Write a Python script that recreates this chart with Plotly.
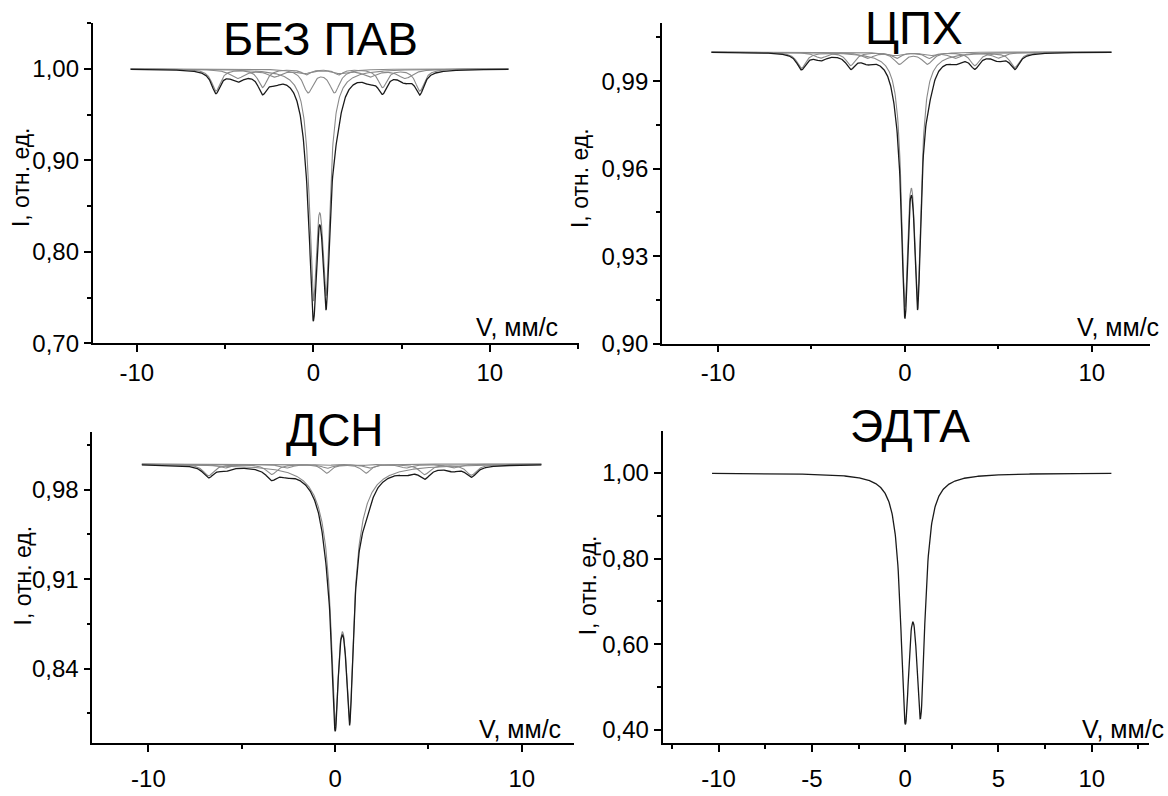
import numpy as np
import plotly.graph_objects as go

# Velocity scale of the spectra, mm/s
V_START, V_END, N_CHANNELS = -10.35, 11.05, 1024

# Each subspectrum: line positions (mm/s), line depths (fraction of baseline), half-widths (mm/s)
# --- БЕЗ ПАВ ---
A_DOUBLET_POS = [0.0, 0.72]
A_DOUBLET_DEPTH = [0.227, 0.221]
A_DOUBLET_HW = [0.265, 0.265]
A_DOUBLET2_POS = [-0.30, 1.20]
A_DOUBLET2_DEPTH = [0.025, 0.025]
A_DOUBLET2_HW = [0.35, 0.35]
A_SEXTET1_POS = [-5.52, -2.88, -0.40, 1.43, 3.92, 6.03]
A_SEXTET1_DEPTH = [0.024, 0.020, 0.006, 0.006, 0.020, 0.024]
A_SEXTET1_HW = [0.30] * 6
A_SEXTET2_POS = [-4.30, -2.20, -0.50, 1.50, 3.20, 5.20]
A_SEXTET2_DEPTH = [0.010, 0.008, 0.004, 0.004, 0.008, 0.010]
A_SEXTET2_HW = [0.50] * 6

# --- ЦПХ ---
B_DOUBLET_POS = [0.0, 0.68]
B_DOUBLET_DEPTH = [0.080, 0.078]
B_DOUBLET_HW = [0.22, 0.22]
B_DOUBLET2_POS = [-0.30, 1.20]
B_DOUBLET2_DEPTH = [0.004, 0.004]
B_DOUBLET2_HW = [0.35, 0.35]
B_SEXTET1_POS = [-5.54, -2.90, -0.45, 1.30, 3.74, 5.88]
B_SEXTET1_DEPTH = [0.0055, 0.0045, 0.002, 0.002, 0.0045, 0.0052]
B_SEXTET1_HW = [0.30] * 6
B_SEXTET2_POS = [-4.50, -2.00, -0.50, 1.30, 2.70, 5.00]
B_SEXTET2_DEPTH = [0.002, 0.002, 0.001, 0.001, 0.002, 0.002]
B_SEXTET2_HW = [0.40] * 6

# --- ДСН --- (doublet lines with a narrow core and a broad foot)
C_DOUBLET_POS = [0.0, 0.78, 0.0, 0.78]
C_DOUBLET_DEPTH = [0.129, 0.127, 0.046, 0.045]
C_DOUBLET_HW = [0.22, 0.22, 0.70, 0.70]
C_DOUBLET2_POS = [-0.45, 1.65]
C_DOUBLET2_DEPTH = [0.007, 0.007]
C_DOUBLET2_HW = [0.30, 0.30]
C_SEXTET1_POS = [-6.78, -3.40, -0.41, 1.81, 4.80, 7.30]
C_SEXTET1_DEPTH = [0.009, 0.008, 0.003, 0.003, 0.008, 0.0085]
C_SEXTET1_HW = [0.35] * 6
C_SEXTET2_POS = [-5.90, -2.60, -0.50, 1.40, 3.80, 6.30]
C_SEXTET2_DEPTH = [0.003, 0.003, 0.001, 0.001, 0.003, 0.003]
C_SEXTET2_HW = [0.40] * 6

# --- ЭДТА ---
D_DOUBLET_POS = [0.0, 0.82]
D_DOUBLET_DEPTH = [0.530, 0.515]
D_DOUBLET_HW = [0.29, 0.29]

PANEL_TITLES = ["БЕЗ ПАВ", "ЦПХ", "ДСН", "ЭДТА"]
Y_TITLE = "I, отн. ед."
X_TITLE = "V, мм/с"

X_TICKS_WIDE = [-10, 0, 10]
X_TICKS_FINE = [-10, -5, 0, 5, 10]

W, H = 1168, 796
FONT = "Liberation Sans, Arial, sans-serif"

v = np.linspace(V_START, V_END, N_CHANNELS)


def lorentz_sum(pos, depth, hw):
    out = np.zeros_like(v)
    for c, d, g in zip(pos, depth, hw):
        out += d * g ** 2 / ((v - c) ** 2 + g ** 2)
    return out


panels = [
    [(A_DOUBLET_POS, A_DOUBLET_DEPTH, A_DOUBLET_HW),
     (A_DOUBLET2_POS, A_DOUBLET2_DEPTH, A_DOUBLET2_HW),
     (A_SEXTET1_POS, A_SEXTET1_DEPTH, A_SEXTET1_HW),
     (A_SEXTET2_POS, A_SEXTET2_DEPTH, A_SEXTET2_HW)],
    [(B_DOUBLET_POS, B_DOUBLET_DEPTH, B_DOUBLET_HW),
     (B_DOUBLET2_POS, B_DOUBLET2_DEPTH, B_DOUBLET2_HW),
     (B_SEXTET1_POS, B_SEXTET1_DEPTH, B_SEXTET1_HW),
     (B_SEXTET2_POS, B_SEXTET2_DEPTH, B_SEXTET2_HW)],
    [(C_DOUBLET_POS, C_DOUBLET_DEPTH, C_DOUBLET_HW),
     (C_DOUBLET2_POS, C_DOUBLET2_DEPTH, C_DOUBLET2_HW),
     (C_SEXTET1_POS, C_SEXTET1_DEPTH, C_SEXTET1_HW),
     (C_SEXTET2_POS, C_SEXTET2_DEPTH, C_SEXTET2_HW)],
    [(D_DOUBLET_POS, D_DOUBLET_DEPTH, D_DOUBLET_HW)],
]

# plot areas in pixels: left, right, top, bottom
boxes = [
    (92.7, 579.0, 23.0, 349.0),
    (662.0, 1149.7, 23.0, 349.3),
    (92.4, 574.0, 439.3, 755.7),
    (662.6, 1148.7, 438.3, 755.7),
]
x_ranges = [(-12.5, 15.05), (-13.0, 13.1), (-13.0, 12.8), (-13.0, 13.05)]
x_tickvals = [X_TICKS_WIDE, X_TICKS_WIDE, X_TICKS_WIDE, X_TICKS_FINE]
x_minor = [5, 5, 5, 2.5]
x_label_standoff = [0, 0, 6, 6]
y_ranges = [(0.70, 1.0505), (0.90, 1.0101), (0.7815, 1.025), (0.368, 1.098)]
y_ticks = [(0.70, 0.10), (0.90, 0.03), (0.84, 0.07), (0.40, 0.20)]

fig = go.Figure()
layout = dict(
    width=W, height=H, autosize=False,
    margin=dict(l=0, r=0, t=0, b=0),
    paper_bgcolor="white", plot_bgcolor="white",
    showlegend=False, separators=", ",
    font=dict(family=FONT, color="black"),
)
annotations = []

for i, comps in enumerate(panels):
    n = "" if i == 0 else str(i + 1)
    xa, ya = "x" + n, "y" + n
    total = np.zeros_like(v)
    for pos, depth, hw in comps:
        a = lorentz_sum(pos, depth, hw)
        total += a
        if len(comps) > 1:
            fig.add_trace(go.Scatter(x=v, y=1 - a, mode="lines", xaxis=xa, yaxis=ya,
                                     line=dict(color="#8a8a8a", width=1.1), hoverinfo="skip"))
    fig.add_trace(go.Scatter(x=v, y=1 - total, mode="lines", xaxis=xa, yaxis=ya,
                             line=dict(color="#1a1a1a", width=1.3)))

    l, r, t, b = boxes[i]
    y0, yd = y_ticks[i]
    tv = x_tickvals[i]
    layout["xaxis" + n] = dict(
        domain=[l / W, r / W], anchor=ya, range=list(x_ranges[i]),
        showline=True, linecolor="black", linewidth=1.8, showgrid=False, zeroline=False,
        ticks="outside", ticklen=7, tickwidth=1.5, tickcolor="black",
        tickmode="array", tickvals=tv, ticktext=[str(t_) for t_ in tv],
        ticklabelstandoff=x_label_standoff[i],
        minor=dict(ticks="outside", ticklen=4, tickwidth=1.5, tickcolor="black",
                   tick0=0, dtick=x_minor[i]),
        tickfont=dict(size=24, family=FONT, color="black"),
    )
    layout["yaxis" + n] = dict(
        domain=[1 - b / H, 1 - t / H], anchor=xa, range=list(y_ranges[i]),
        showline=True, linecolor="black", linewidth=1.8, showgrid=False, zeroline=False,
        ticks="outside", ticklen=7, tickwidth=1.5, tickcolor="black",
        tick0=y0, dtick=yd, tickformat=".2f",
        minor=dict(ticks="outside", ticklen=4, tickwidth=1.5, tickcolor="black", tick0=y0, dtick=yd / 2),
        tickfont=dict(size=24, family=FONT, color="black"),
    )

# panel titles, axis titles (pixel positions)
title_pos = [(320, 40), (914, 28), (335, 437), (910, 433)]
ytitle_pos = [(21, 180), (580, 181), (23, 585), (588, 595)]
xtitle_pos = [(560, 349), (1161, 349), (563, 757), (1166, 757)]

for i in range(4):
    tx, ty = title_pos[i]
    annotations.append(dict(text=PANEL_TITLES[i], x=tx / W, y=1 - ty / H, xref="paper", yref="paper",
                            xanchor="center", yanchor="middle", showarrow=False,
                            font=dict(size=46, family=FONT, color="black")))
    yx, yy = ytitle_pos[i]
    annotations.append(dict(text=Y_TITLE, x=yx / W, y=1 - yy / H, xref="paper", yref="paper",
                            xanchor="center", yanchor="middle", textangle=-90, showarrow=False,
                            font=dict(size=23, family=FONT, color="black")))
    vx, vy = xtitle_pos[i]
    annotations.append(dict(text=X_TITLE, x=vx / W, y=1 - vy / H, xref="paper", yref="paper",
                            xanchor="right", yanchor="bottom", showarrow=False,
                            font=dict(size=25, family=FONT, color="black")))

layout["annotations"] = annotations
fig.update_layout(**layout)
fig.write_html("out.html")
